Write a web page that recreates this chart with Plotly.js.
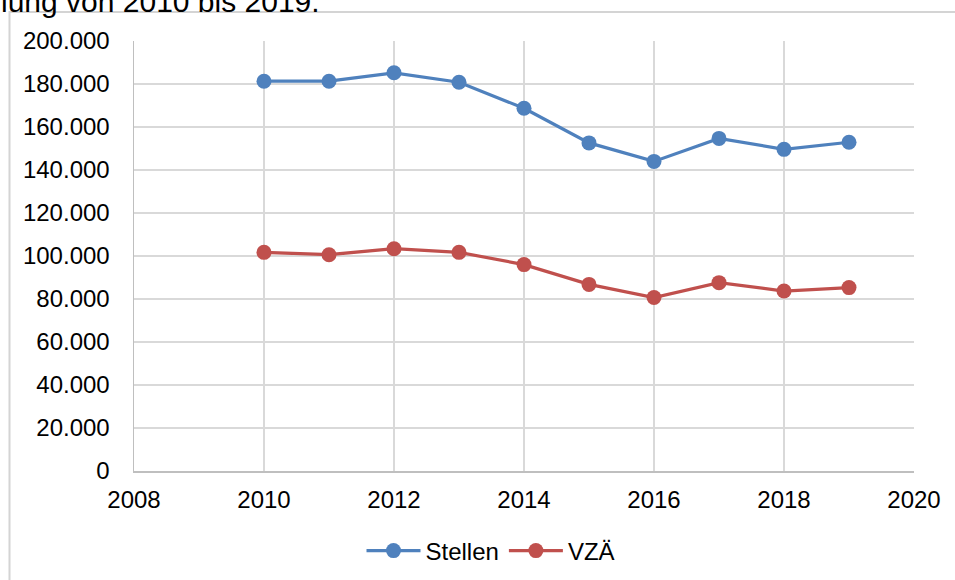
<!DOCTYPE html>
<html>
<head>
<meta charset="utf-8">
<script src="https://cdn.plot.ly/plotly-3.0.1.min.js"></script>
<style>
html,body{margin:0;padding:0;background:#fff;}
#chart{width:955px;height:580px;}
</style>
</head>
<body>
<div id="chart"></div>
<script>
// Data
const years = [2010, 2011, 2012, 2013, 2014, 2015, 2016, 2017, 2018, 2019];
const stellen = [181300, 181300, 185200, 180800, 168700, 152600, 144000, 154700, 149600, 152900];
const vza = [101700, 100600, 103400, 101700, 96000, 86800, 80700, 87600, 83700, 85300];
const seriesNames = ["Stellen", "VZÄ"];
const topText = "lung von 2010 bis 2019.";

const F = "Liberation Sans, Arial, sans-serif";
const L = 134, R = 41, T = 41, B = 109;
const plotW = 955 - L - R, plotH = 580 - T - B;

const traces = [
  {x: years, y: stellen, name: seriesNames[0], type: "scatter", mode: "lines+markers",
   line: {color: "#4f81bd", width: 3.2}, marker: {color: "#4f81bd", size: 15}},
  {x: years, y: vza, name: seriesNames[1], type: "scatter", mode: "lines+markers",
   line: {color: "#c0504d", width: 3.2}, marker: {color: "#c0504d", size: 15}}
];

const layout = {
  width: 955, height: 580,
  margin: {l: L, r: R, t: T, b: B, pad: 0, autoexpand: false},
  paper_bgcolor: "#ffffff", plot_bgcolor: "#ffffff",
  separators: ",.",
  font: {family: F, size: 24, color: "#000"},
  showlegend: true,
  legend: {orientation: "h", x: (491 - L) / plotW, xanchor: "center",
           y: -(551 - 471) / plotH, yanchor: "middle",
           font: {family: F, size: 24, color: "#000"}, itemwidth: 54, tracegroupgap: 0},
  xaxis: {range: [2008, 2020], dtick: 2, tick0: 2008, showgrid: true, gridcolor: "#d9d9d9", gridwidth: 1.5,
          zeroline: false, showline: true, linecolor: "#bfbfbf", linewidth: 1.5, ticks: "",
          ticklabelstandoff: 7, tickfont: {family: F, size: 24, color: "#000"}, fixedrange: true, automargin: false},
  yaxis: {range: [0, 200000], dtick: 20000, tickformat: ",d", showgrid: true, gridcolor: "#d9d9d9", gridwidth: 1.5,
          zeroline: false, showline: true, linecolor: "#bfbfbf", linewidth: 1.5, ticks: "",
          ticklabelstandoff: 18, tickfont: {family: F, size: 24, color: "#000"}, fixedrange: true, automargin: false},
  shapes: [
    {type: "rect", xref: "paper", yref: "paper",
     x0: (9.5 - L) / plotW, x1: (990 - L) / plotW,
     y0: -(600 - 471) / plotH, y1: (471 - 12) / plotH,
     line: {color: "#d4d4d4", width: 2}, fillcolor: "rgba(0,0,0,0)", layer: "below"}
  ],
  annotations: [
    {text: topText, xref: "paper", yref: "paper", x: (0 - L) / plotW, xanchor: "left",
     y: (471 - 19) / plotH, yanchor: "bottom", showarrow: false, borderpad: 0,
     font: {family: F, size: 30, color: "#000"}}
  ]
};

Plotly.newPlot("chart", traces, layout, {displayModeBar: false, staticPlot: true});
</script>
</body>
</html>
